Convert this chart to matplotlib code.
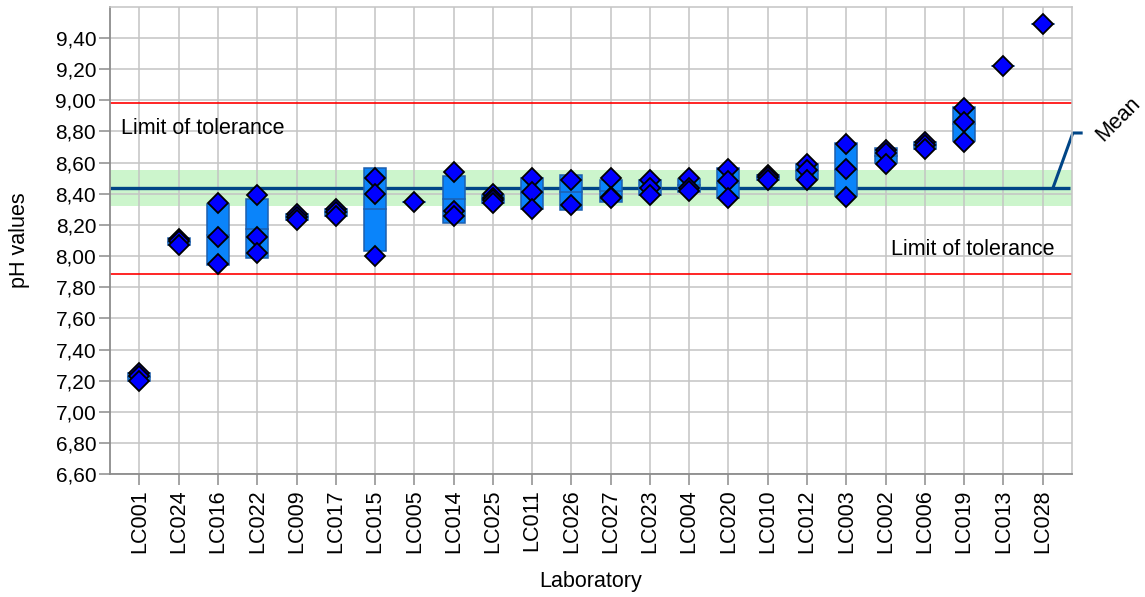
import numpy as np
import matplotlib
matplotlib.use("Agg")
import matplotlib.pyplot as plt
from matplotlib.patches import Rectangle
from matplotlib.ticker import FuncFormatter

plt.rcParams["font.family"] = ["Liberation Sans", "DejaVu Sans"]

# pH results per laboratory (sorted by lab mean)
labs = ["LC001", "LC024", "LC016", "LC022", "LC009", "LC017", "LC015", "LC005",
        "LC014", "LC025", "LC011", "LC026", "LC027", "LC023", "LC004", "LC020",
        "LC010", "LC012", "LC003", "LC002", "LC006", "LC019", "LC013", "LC028"]
ph_values = [
    [7.25, 7.23, 7.20],
    [8.11, 8.10, 8.07],
    [8.34, 8.12, 7.95],
    [8.39, 8.12, 8.02],
    [8.27, 8.25, 8.23],
    [8.30, 8.28, 8.26],
    [8.50, 8.40, 8.00],
    [8.35],
    [8.54, 8.29, 8.26],
    [8.40, 8.37, 8.36, 8.34],
    [8.50, 8.41, 8.30],
    [8.49, 8.33],
    [8.50, 8.38, 8.37],
    [8.49, 8.44, 8.39],
    [8.50, 8.44, 8.42],
    [8.56, 8.48, 8.37],
    [8.52, 8.51, 8.49],
    [8.59, 8.55, 8.49],
    [8.72, 8.56, 8.38],
    [8.68, 8.66, 8.59],
    [8.73, 8.71, 8.69],
    [8.95, 8.86, 8.73],
    [9.22],
    [9.49],
]

MEAN = 8.435
TOL_LOW, TOL_HIGH = 7.885, 8.985
BAND_LOW, BAND_HIGH = 8.32, 8.55

BOX_FILL = "#0a84fa"
BOX_EDGE = "#1d5fae"
NAVY = "#004586"
GRID = "#c4c4c4"
AXIS = "#8c8c8c"
FS_TICK = 15
FS = 15.5

fig = plt.figure(figsize=(11.45, 5.97), dpi=100)
ax = fig.add_axes([0.0961, 0.2055, 0.8402, 0.7832])
ax.set_xlim(-0.75, 23.75)
ax.set_ylim(6.6, 9.6)

# tolerance band around the mean
ax.axhspan(BAND_LOW, BAND_HIGH, color="#ccf5cc", lw=0, zorder=0.3)

ax.set_axisbelow(True)
ax.grid(color=GRID, lw=1.1)

for lim in (TOL_LOW, TOL_HIGH):
    ax.axhline(lim, color="#ff0000", lw=1.2, zorder=2)

# mean line with its callout outside the plot
ax.plot([-0.75, 23.69], [MEAN, MEAN], color=NAVY, lw=2.4, zorder=2.5,
        clip_on=False, solid_capstyle="butt")
ax.plot([23.26, 23.77, 24.02], [MEAN, 8.79, 8.79], color=NAVY, lw=2.2,
        clip_on=False, solid_capstyle="butt")
ax.text(24.45, 8.76, "Mean", rotation=45, rotation_mode="anchor",
        ha="left", va="center", fontsize=FS, clip_on=False)

# mean +/- sd box and individual results per lab
half_w = 0.28
for i, vals in enumerate(ph_values):
    vals = np.asarray(vals)
    m = vals.mean()
    s = vals.std(ddof=1) if len(vals) > 1 else 0.0
    ax.add_patch(Rectangle((i - half_w, m - s), 2 * half_w, 2 * s,
                           fc=BOX_FILL, ec=BOX_EDGE, lw=1.1, zorder=3))
    ax.plot([i - half_w, i + half_w], [m, m], color=BOX_EDGE, lw=1.1, zorder=3.1)
    ax.plot(np.full(len(vals), i), vals, ls="none", marker="D", ms=9.8,
            mfc="#0000ff", mec="black", mew=1.3, zorder=4)

ax.text(-0.48, 8.82, "Limit of tolerance", fontsize=FS, ha="left", va="center")
ax.text(19.15, 8.04, "Limit of tolerance", fontsize=FS, ha="left", va="center")

ax.set_xticks(range(len(labs)))
ax.set_xticklabels(labs, rotation=90, fontsize=FS)
ax.set_yticks(np.round(np.arange(6.6, 9.41, 0.2), 2))
ax.yaxis.set_major_formatter(FuncFormatter(lambda v, _: f"{v:.2f}".replace(".", ",")))
ax.tick_params(axis="both", length=8, width=1.1, color=AXIS)
ax.tick_params(axis="x", pad=3, labelsize=FS)
ax.tick_params(axis="y", pad=2, labelsize=FS_TICK)

for side in ("left", "bottom"):
    ax.spines[side].set_color(AXIS)
    ax.spines[side].set_linewidth(1.3)
for side in ("top", "right"):
    ax.spines[side].set_color(GRID)
    ax.spines[side].set_linewidth(1.1)

ax.set_xlabel("Laboratory", fontsize=FS)
ax.set_ylabel("pH values", fontsize=FS)
ax.xaxis.set_label_coords(0.5, -0.207)
ax.yaxis.set_label_coords(-0.083, 0.5)

fig.savefig("out.png", dpi=100)
